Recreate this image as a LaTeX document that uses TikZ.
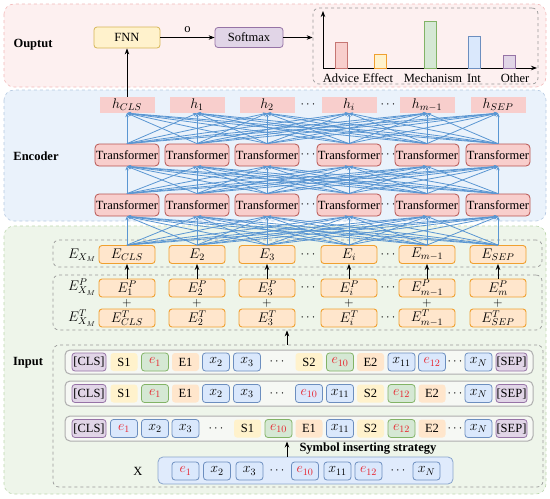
\RequirePackage{fix-cm}
\documentclass[tikz,border=0pt]{standalone}
\usepackage{fontspec}
\setmainfont{Liberation Serif}
\usetikzlibrary{arrows.meta}
\definecolor{pinkbg}{HTML}{FDF0F0}
\definecolor{pinkbd}{HTML}{F2B8B8}
\definecolor{bluebg}{HTML}{EAF2FB}
\definecolor{bluebd}{HTML}{B4C8E0}
\definecolor{greenbg}{HTML}{EEF5EA}
\definecolor{greenbd}{HTML}{BCD6AE}
\definecolor{redfill}{HTML}{F8CECC}
\definecolor{redline}{HTML}{B85450}
\definecolor{bluefill}{HTML}{DAE8FC}
\definecolor{blueline}{HTML}{6C8EBF}
\definecolor{greenfill}{HTML}{D5E8D4}
\definecolor{greenline}{HTML}{82B366}
\definecolor{purfill}{HTML}{E1D5E7}
\definecolor{purline}{HTML}{9673A6}
\definecolor{yelfill}{HTML}{FFF2CC}
\definecolor{yelline}{HTML}{D6B656}
\definecolor{orgfill}{HTML}{FFE6CC}
\definecolor{orgline}{HTML}{F0A030}
\definecolor{linkblue}{HTML}{5A96D2}
\definecolor{greyline}{HTML}{9A9A9A}
\definecolor{rowfill}{HTML}{F6F8F4}
\definecolor{ered}{HTML}{E8202A}
\newcommand{\mm}[1]{{\fontsize{14}{16}\selectfont$#1$}}
\newcommand{\er}[1]{\textcolor{ered}{\mm{e_{#1}}}}
\tikzset{
  panel/.style={dashed, rounded corners=10, line width=0.6pt},
  dbox/.style={dashed, draw=greyline, rounded corners=6, line width=0.7pt},
  el/.style={rounded corners=3, minimum width=27, minimum height=18, inner sep=0pt, line width=0.8pt},
  blu/.style={fill=bluefill, draw=blueline},
  grn/.style={fill=greenfill, draw=greenline},
  pur/.style={fill=purfill, draw=purline},
  ylw/.style={fill=yelfill},
  org/.style={fill=orgfill},
  rowbox/.style={rounded corners=5, fill=rowfill, draw=greyline!80, line width=1pt, inner sep=0pt},
  tfm/.style={rounded corners=4, fill=redfill, draw=redline, line width=0.8pt, minimum width=64, minimum height=22, inner sep=0pt},
  hbox/.style={fill=redfill, minimum width=55, minimum height=16, inner sep=0pt},
  ebox/.style={rounded corners=3, fill=orgfill, draw=orgline, line width=0.9pt, minimum width=56, minimum height=18, inner sep=0pt},
  bl/.style={draw=linkblue, line width=0.8pt, -{Stealth[length=4pt,width=3.4pt]}},
  blk/.style={draw=black, line width=0.9pt, -{Stealth[length=6pt,width=4.5pt]}},
  bar/.style={line width=0.8pt},
  lbl/.style={font=\fontsize{12.5}{15}\selectfont\bfseries}
}
\begin{document}
\begin{tikzpicture}[x=1pt,y=-1pt, font=\fontsize{12.5}{15}\selectfont]
\useasboundingbox (0,0) rectangle (550,499);
% panels
\draw[panel, fill=pinkbg, draw=pinkbd] (4,4) rectangle (546,87);
\draw[panel, fill=bluebg, draw=bluebd] (4,90) rectangle (546,221);
\draw[panel, fill=greenbg, draw=greenbd] (4,226) rectangle (546,494);
\node[lbl] (lout) at (33,45) {Ouptut};
\node[lbl] (lenc) at (36,156) {Encoder};
\node[lbl] (lin) at (28,363) {Input};

% output
\node[rounded corners=3, fill=yelfill, draw=yelline, line width=0.8pt, minimum width=66, minimum height=21, inner sep=0pt] (fnn) at (127,37.5) {FNN};
\node[rounded corners=3, fill=purfill, draw=purline, line width=0.8pt, minimum width=68, minimum height=20, inner sep=0pt] (soft) at (249,37.5) {Softmax};
\draw[blk] (fnn) -- node[above=1pt] {o} (soft);
\node[dbox, minimum width=225, minimum height=76, inner sep=0pt] (chart) at (425.5,46) {};
\draw[blk] (soft) -- (chart.west |- soft);
\coordinate (org) at (323,68);
\coordinate (ytop) at (323,11);
\coordinate (xend) at (537,68);
\draw[blk] (org) -- (ytop);
\draw[blk] (org) -- (xend);
\draw[bar, fill=redfill, draw=redline!80] (335,42) rectangle (347,68);
\draw[bar, fill=yelfill, draw=orgline] (374,54) rectangle (386,68);
\draw[bar, fill=greenfill, draw=greenline] (424,21) rectangle (436,68);
\draw[bar, fill=bluefill, draw=blueline] (468,36) rectangle (480,68);
\draw[bar, fill=purfill, draw=purline] (503,55) rectangle (515,68);
\node (tadv) at (341,78) {Advice};
\node (teff) at (378,78) {Effect};
\node (tmec) at (433,78) {Mechanism};
\node (tint) at (474,78) {Int};
\node (toth) at (515,78) {Other};

% embedding dashed frames
\node[dbox, minimum width=489, minimum height=27, inner sep=0pt] (ebx) at (297.5,253.5) {};
\node[dbox, minimum width=489, minimum height=55, inner sep=0pt] (ptbx) at (297.5,302.5) {};
\node (lex) at (82,255) {\mm{E_{X_M}}};
\node (lepx) at (82,287) {\mm{E^P_{X_M}}};
\node (letx) at (82,318) {\mm{E^T_{X_M}}};

% encoder columns
\foreach \i/\x/\h/\e/\p/\t in {
  1/127/{h_{CLS}}/{E_{CLS}}/{E^P_1}/{E^T_{CLS}},
  2/197/{h_1}/{E_2}/{E^P_2}/{E^T_2},
  3/267/{h_2}/{E_3}/{E^P_3}/{E^T_3},
  4/349/{h_i}/{E_i}/{E^P_i}/{E^T_i},
  5/427/{h_{m-1}}/{E_{m-1}}/{E^P_{m-1}}/{E^T_{m-1}},
  6/498/{h_{SEP}}/{E_{SEP}}/{E^P_m}/{E^T_{SEP}}}{
  \node[hbox] (h\i) at (\x,105) {\mm{\h}};
  \node[tfm] (tt\i) at (\x,155) {Transformer};
  \node[tfm] (tb\i) at (\x,205) {Transformer};
  \node[ebox] (e\i) at (\x,254.5) {\mm{\e}};
  \node[ebox] (p\i) at (\x,288) {\mm{\p}};
  \node[ebox] (t\i) at (\x,318) {\mm{\t}};
  \node[inner sep=0pt] (plus\i) at (\x,303) {$+$};
}
\foreach \y in {105,155,205,254.5,288,318}{
  \node at (308,\y) {$\cdots$};
  \node at (388,\y) {$\cdots$};
}
\foreach \i in {1,...,6}{
  \foreach \j in {1,...,6}{
    \draw[bl] (e\i.north) -- (tb\j.south);
    \draw[bl] (tb\i.north) -- (tt\j.south);
    \draw[bl] (tt\i.north) -- (h\j.south);
  }
  \draw[blk] (p\i.north) -- (e\i.south);
}
\draw[blk] (h1.north) -- (h1.north |- fnn.south);

% input
\node[dbox, minimum width=490, minimum height=142, inner sep=0pt] (inbx) at (298,416) {};
\coordinate (symx) at (287,0);
\draw[blk] (inbx.north -| symx) -- (ptbx.south -| symx);

\node[rowbox, minimum width=468, minimum height=24] (row1) at (299,362) {};
\node[rowbox, minimum width=468, minimum height=25] (row2) at (299,393.5) {};
\node[rowbox, minimum width=468, minimum height=25] (row3) at (299,428.5) {};

% row 1
\node[el,pur,minimum width=34] (r1cls) at (89,362) {[CLS]};
\node[el,ylw] (r1s1) at (124,362) {S1};
\node[el,grn] (r1e1) at (155,362) {\er{1}};
\node[el,org] (r1E1) at (185.5,362) {E1};
\node[el,blu] (r1x2) at (216,362) {\mm{x_2}};
\node[el,blu] (r1x3) at (247,362) {\mm{x_3}};
\node (r1d1) at (277,362) {$\cdots$};
\node[el,ylw] (r1s2) at (309,362) {S2};
\node[el,grn] (r1e10) at (340,362) {\er{10}};
\node[el,org] (r1E2) at (370.5,362) {E2};
\node[el,blu] (r1x11) at (401.5,362) {\mm{x_{11}}};
\node[el,blu] (r1e12) at (432,362) {\er{12}};
\node (r1d2) at (455,362) {$\cdots$};
\node[el,blu] (r1xn) at (478.5,362) {\mm{x_N}};
\node[el,pur,minimum width=31] (r1sep) at (511.5,362) {[SEP]};
% row 2
\node[el,pur,minimum width=34] (r2cls) at (89,393.5) {[CLS]};
\node[el,ylw] (r2s1) at (124,393.5) {S1};
\node[el,grn] (r2e1) at (155,393.5) {\er{1}};
\node[el,org] (r2E1) at (185.5,393.5) {E1};
\node[el,blu] (r2x2) at (216,393.5) {\mm{x_2}};
\node[el,blu] (r2x3) at (247,393.5) {\mm{x_3}};
\node (r2d1) at (277,393.5) {$\cdots$};
\node[el,blu] (r2e10) at (309,393.5) {\er{10}};
\node[el,blu] (r2x11) at (340,393.5) {\mm{x_{11}}};
\node[el,ylw] (r2s2) at (370.5,393.5) {S2};
\node[el,grn] (r2e12) at (401.5,393.5) {\er{12}};
\node[el,org] (r2E2) at (432,393.5) {E2};
\node (r2d2) at (455,393.5) {$\cdots$};
\node[el,blu] (r2xn) at (478.5,393.5) {\mm{x_N}};
\node[el,pur,minimum width=31] (r2sep) at (511.5,393.5) {[SEP]};
% row 3
\node[el,pur,minimum width=34] (r3cls) at (89,428.5) {[CLS]};
\node[el,blu] (r3e1) at (124,428.5) {\er{1}};
\node[el,blu] (r3x2) at (155,428.5) {\mm{x_2}};
\node[el,blu] (r3x3) at (185.5,428.5) {\mm{x_3}};
\node (r3d1) at (216,428.5) {$\cdots$};
\node[el,ylw] (r3s1) at (247.5,428.5) {S1};
\node[el,grn] (r3e10) at (278.5,428.5) {\er{10}};
\node[el,org] (r3E1) at (309,428.5) {E1};
\node[el,blu] (r3x11) at (340,428.5) {\mm{x_{11}}};
\node[el,ylw] (r3s2) at (370.5,428.5) {S2};
\node[el,grn] (r3e12) at (401.5,428.5) {\er{12}};
\node[el,org] (r3E2) at (432,428.5) {E2};
\node (r3d2) at (455,428.5) {$\cdots$};
\node[el,blu] (r3xn) at (478.5,428.5) {\mm{x_N}};
\node[el,pur,minimum width=31] (r3sep) at (511.5,428.5) {[SEP]};

% X strip
\node[rounded corners=5, fill=bluefill!85, draw=blueline!80, line width=0.8pt, minimum width=295, minimum height=27, inner sep=0pt] (xs) at (305.5,470.5) {};
\node (xlab) at (138,471) {X};
\node[el,blu] (xe1) at (185.5,471) {\er{1}};
\node[el,blu] (xx2) at (217,471) {\mm{x_2}};
\node[el,blu] (xx3) at (249.5,471) {\mm{x_3}};
\node (xd1) at (277,471) {$\cdots$};
\node[el,blu] (xe10) at (305,471) {\er{10}};
\node[el,blu] (xx11) at (337.5,471) {\mm{x_{11}}};
\node[el,blu] (xe12) at (368.5,471) {\er{12}};
\node (xd2) at (398,471) {$\cdots$};
\node[el,blu] (xxn) at (426.5,471) {\mm{x_N}};
\draw[blk] (xs.north -| symx) -- (row3.south -| symx);
\node[lbl, anchor=west] (symtxt) at (296,449) {Symbol inserting strategy};
\end{tikzpicture}
\end{document}
